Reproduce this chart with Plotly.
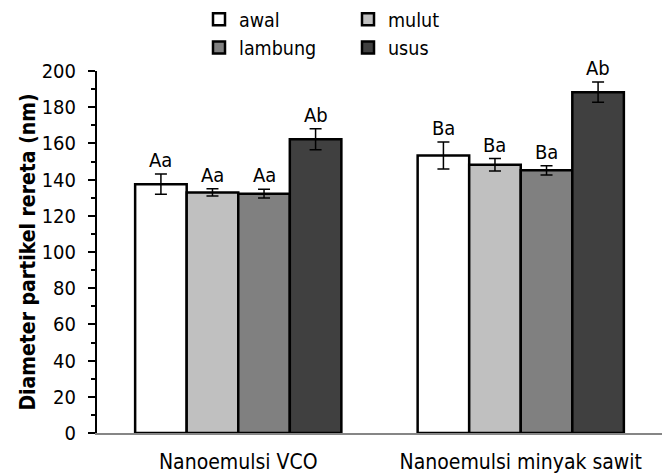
import plotly.graph_objects as go

categories = ["Nanoemulsi VCO", "Nanoemulsi minyak sawit"]
series_names = ["awal", "mulut", "lambung", "usus"]
series_colors = ["#ffffff", "#c0c0c0", "#808080", "#404040"]
awal = [137.5, 153.3]
mulut = [132.9, 148.2]
lambung = [132.2, 145.1]
usus = [162.3, 188.3]
awal_err = [5.6, 7.5]
mulut_err = [2.0, 3.4]
lambung_err = [2.4, 2.6]
usus_err = [5.8, 5.6]
awal_lbl = ["Aa", "Ba"]
mulut_lbl = ["Aa", "Ba"]
lambung_lbl = ["Aa", "Ba"]
usus_lbl = ["Ab", "Ab"]
y_ticks = [0, 20, 40, 60, 80, 100, 120, 140, 160, 180, 200]

values = [awal, mulut, lambung, usus]
errors = [awal_err, mulut_err, lambung_err, usus_err]
labels = [awal_lbl, mulut_lbl, lambung_lbl, usus_lbl]

FONT = "DejaVu Sans Condensed, DejaVu Sans"
BARGAP = 0.27
legend_of = ["legend", "legend2", "legend", "legend2"]
L, R, T, B = 97, 8, 71, 42
PW = 670 - L - R
PH = 475 - T - B

fig = go.Figure()
for i, name in enumerate(series_names):
    fig.add_trace(go.Bar(
        name=name, x=categories, y=values[i],
        marker=dict(color=series_colors[i], line=dict(color="#000000", width=2.5)),
        error_y=dict(type="data", array=errors[i], color="#000000", thickness=1.5, width=6),
        legend=legend_of[i],
    ))

n = len(series_names)
w = (1 - BARGAP) / n
annotations = []
for i in range(n):
    for k in range(len(categories)):
        annotations.append(dict(
            x=k + (i - (n - 1) / 2) * w, y=values[i][k] + errors[i][k],
            xref="x", yref="y", text=labels[i][k], showarrow=False,
            yanchor="bottom", xanchor="center",
            font=dict(family=FONT, size=20, color="#000000"),
        ))

legend_common = dict(
    orientation="v", xanchor="left", yanchor="top",
    font=dict(family=FONT, size=19.5, color="#000000"),
    bgcolor="rgba(0,0,0,0)", borderwidth=0, tracegroupgap=0,
)
legend_y = 1 + T / PH

fig.update_layout(
    width=670, height=475,
    margin=dict(l=L, r=R, t=T, b=B, autoexpand=False),
    paper_bgcolor="#ffffff", plot_bgcolor="#ffffff",
    barmode="group", bargap=BARGAP, bargroupgap=0,
    font=dict(family=FONT, size=20, color="#000000"),
    legend=dict(x=(199 - L) / PW, y=legend_y, **legend_common),
    legend2=dict(x=(348 - L) / PW, y=legend_y, **legend_common),
    annotations=annotations,
    showlegend=True,
)
fig.update_xaxes(
    type="category", showline=True, linecolor="#868686", linewidth=2,
    ticks="", showgrid=False, zeroline=False, ticklabelstandoff=9,
    tickfont=dict(family=FONT, size=21, color="#000000"),
)
fig.update_yaxes(
    range=[0, 200], tickvals=y_ticks, showline=True, linecolor="#000000", linewidth=2,
    ticks="outside", ticklen=7, tickwidth=1.5, tickcolor="#000000",
    minor=dict(dtick=10, ticks="outside", ticklen=4, tickwidth=1.5, tickcolor="#000000"),
    showgrid=False, zeroline=False, ticklabelstandoff=8, automargin=True,
    tickfont=dict(family=FONT, size=20, color="#000000"),
    title=dict(text="<b>Diameter partikel rereta (nm)</b>", standoff=0,
               font=dict(family=FONT, size=21, color="#000000")),
)
fig.write_html(
    "out.html",
    config={"displayModeBar": False},
    post_script="document.body.style.margin='0';document.body.style.overflow='hidden';",
)
